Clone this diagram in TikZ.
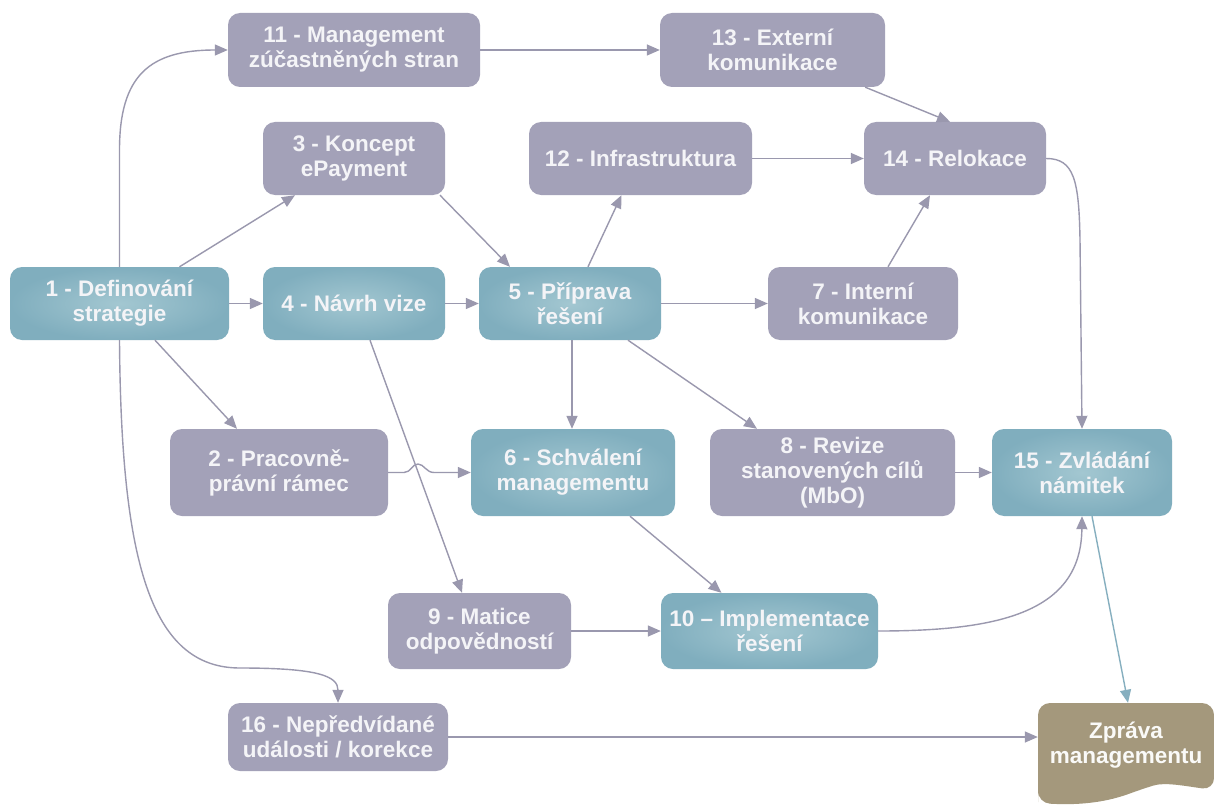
\documentclass[tikz,border=0pt]{standalone}
\usepackage{fontspec}
\setmainfont{Liberation Sans}
\usetikzlibrary{arrows.meta}
\definecolor{greybox}{HTML}{A3A1B8}
\definecolor{tealout}{HTML}{80AEBE}
\definecolor{tealin}{HTML}{A3C7D1}
\definecolor{tanbox}{HTML}{A4987C}
\definecolor{linec}{HTML}{9A98AE}
\definecolor{tealline}{HTML}{86AFBF}
\definecolor{txtc}{HTML}{F4F4F7}
\tikzset{
  box/.style={rounded corners=12pt, inner sep=0pt, align=center,
    font=\fontsize{22.5}{25}\selectfont\bfseries, text=txtc},
  gbox/.style={box, fill=greybox},
  tbox/.style={box, shade, inner color=tealin, outer color=tealout},
  arr/.style={draw=linec, line width=1.4pt,
    -{Triangle[length=13pt,width=11pt]}, fill=none},
  tarr/.style={arr, draw=tealline, -{Triangle[length=13pt,width=11pt,fill=tealline]}}
}
\begin{document}
\begin{tikzpicture}[x=1pt,y=-1pt]
\useasboundingbox[fill=white] (0,0) rectangle (1214,805);

% Zprava shape
\fill[tanbox, rounded corners=12pt] (1038,790) -- (1038,703) -- (1214,703) -- (1214,790)
  .. controls (1185,786) and (1165,782) .. (1142,789)
  .. controls (1115,799) and (1090,806) .. (1038,803) -- cycle;

% nodes
\node[gbox, minimum width=252pt, minimum height=74pt] (n11) at (354,50) {11 - Management\\zúčastněných stran};
\node[gbox, minimum width=225pt, minimum height=74pt] (n13) at (772.5,50) {13 - Externí\\komunikace};
\node[gbox, minimum width=182pt, minimum height=73pt] (n3) at (354,158.5) {3 - Koncept\\ePayment};
\node[gbox, minimum width=223pt, minimum height=73pt] (n12) at (640.5,158.5) {12 - Infrastruktura};
\node[gbox, minimum width=182pt, minimum height=73pt] (n14) at (955,158.5) {14 - Relokace};
\node[tbox, minimum width=219pt, minimum height=73pt] (n1) at (119.5,303.5) {1 - Definování\\strategie};
\node[tbox, minimum width=182pt, minimum height=73pt] (n4) at (354,303.5) {4 - Návrh vize};
\node[tbox, minimum width=182pt, minimum height=73pt] (n5) at (570,303.5) {5 - Příprava\\řešení};
\node[gbox, minimum width=190pt, minimum height=73pt] (n7) at (863,303.5) {7 - Interní\\komunikace};
\node[gbox, minimum width=218pt, minimum height=87pt] (n2) at (279,472.5) {2 - Pracovně-\\právní rámec};
\node[tbox, minimum width=204pt, minimum height=87pt] (n6) at (573,472.5) {6 - Schválení\\managementu};
\node[gbox, minimum width=245pt, minimum height=87pt] (n8) at (832.5,472.5) {8 - Revize\\stanovených cílů\\(MbO)};
\node[tbox, minimum width=180pt, minimum height=87pt] (n15) at (1082,472.5) {15 - Zvládání\\námitek};
\node[gbox, minimum width=183pt, minimum height=76pt] (n9) at (479.5,631) {9 - Matice\\odpovědností};
\node[tbox, minimum width=217pt, minimum height=76pt] (n10) at (769.5,631) {10 – Implementace\\řešení};
\node[gbox, minimum width=220pt, minimum height=68pt] (n16) at (338,737) {16 - Nepředvídané\\události / korekce};
\node[box, text=white!95!tanbox, minimum width=176pt, minimum height=84pt] (zp) at (1126,745) {Zpráva\\managementu};

% connectors
\draw[arr] (n1.north) -- (119.5,150) .. controls (119.5,75) and (150,50) .. (n11.west);
\draw[arr] ([xshift=60pt]n1.north) -- ([xshift=-59pt]n3.south);
\draw[arr] (n1.east) -- (n4.west);
\draw[arr] ([xshift=35.5pt]n1.south) -- ([xshift=-42pt]n2.north);
\draw[arr] (n1.south) .. controls (121,560) and (150,668) .. (240,668)
  .. controls (318,668) and (338,676) .. (n16.north);
\draw[arr] (n11.east) -- (n13.west);
\draw[arr] ([xshift=-20pt]n13.south east) -- ([xshift=-5pt]n14.north);
\draw[arr] ([xshift=86pt]n3.south) -- ([xshift=-60pt]n5.north);
\draw[arr] ([xshift=18pt]n5.north) -- ([xshift=-19pt]n12.south);
\draw[arr] (n12.east) -- (n14.west);
\draw[arr] ([xshift=25pt]n7.north) -- ([xshift=-25pt]n14.south);
\draw[arr] (n14.east) .. controls (1074,158.5) and (1079,180) .. (1080,240) -- (n15.north);
\draw[arr] (n4.east) -- (n5.west);
\draw[arr] (n5.east) -- (n7.west);
\draw[arr] ([xshift=2pt]n5.south) -- ([xshift=-1pt]n6.north);
\draw[arr] ([xshift=58pt]n5.south) -- ([xshift=-75.5pt]n8.north);
\draw[arr] ([xshift=16pt]n4.south) -- ([xshift=-17.5pt]n9.north);
\draw[arr] (n2.east) -- (404,472.5) .. controls (411,472.5) and (412,464) .. (418,464)
  .. controls (424,464) and (426,472.5) .. (434,472.5) -- (n6.west);
\draw[arr] ([xshift=57pt]n6.south) -- ([xshift=-48pt]n10.north);
\draw[arr] (n9.east) -- (n10.west);
\draw[arr] (n8.east) -- (n15.west);
\draw[arr] (n10.east) .. controls (1000,631) and (1081,612) .. (n15.south);
\draw[tarr] ([xshift=10pt]n15.south) -- ([xshift=2pt]zp.north);
\draw[arr] (n16.east) -- (n16.east -| zp.west);
\end{tikzpicture}
\end{document}
